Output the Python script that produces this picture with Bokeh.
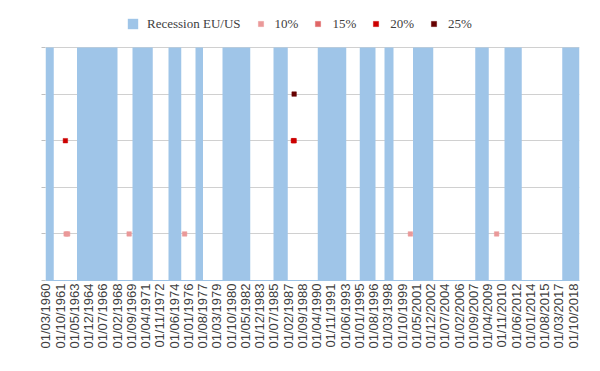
from bokeh.plotting import figure
from bokeh.models import Range1d, FixedTicker, Legend, LegendItem, ColumnDataSource
from bokeh.embed import file_html
from bokeh.resources import INLINE
import math

# ---- data ----
first_month = "1960-03"
last_month = "2019-06"

recession_start = ["1960-03", "1963-09", "1969-11", "1973-11", "1976-11", "1979-11", "1985-07",
                   "1990-06", "1995-02", "1997-11", "2001-01", "2007-12", "2011-03", "2017-08"]
recession_end = ["1961-01", "1968-02", "1972-01", "1975-03", "1977-08", "1982-11", "1987-01",
                 "1993-07", "1996-10", "1998-10", "2003-03", "2009-05", "2013-01", "2019-06"]
recession_top = 5

dates_10 = ["1962-06", "1962-08", "1969-06", "1975-08", "2000-09", "2010-04"]
values_10 = [1, 1, 1, 1, 1, 1]
dates_15 = []
values_15 = []
dates_20 = ["1962-05", "1987-09", "1987-10"]
values_20 = [3, 3, 3]
dates_25 = ["1987-10"]
values_25 = [4]

tick_labels = ["01/03/1960", "01/10/1961", "01/05/1963", "01/12/1964", "01/07/1966", "01/02/1968",
               "01/09/1969", "01/04/1971", "01/11/1972", "01/06/1974", "01/01/1976", "01/08/1977",
               "01/03/1979", "01/10/1980", "01/05/1982", "01/12/1983", "01/07/1985", "01/02/1987",
               "01/09/1988", "01/04/1990", "01/11/1991", "01/06/1993", "01/01/1995", "01/08/1996",
               "01/03/1998", "01/10/1999", "01/05/2001", "01/12/2002", "01/07/2004", "01/02/2006",
               "01/09/2007", "01/04/2009", "01/11/2010", "01/06/2012", "01/01/2014", "01/08/2015",
               "01/03/2017", "01/10/2018"]

series_labels = ["Recession EU/US", "10%", "15%", "20%", "25%"]
series_colors = ["#9FC5E8", "#EA9999", "#E06666", "#CC0000", "#660000"]

# ---- helpers ----
fy, fm = map(int, first_month.split("-"))


def idx(s):
    y, m = map(int, s.split("-"))
    return (y - fy) * 12 + (m - fm)


n_months = idx(last_month) + 1

# frame spans from legend row down to axis; data top (5) sits 37px below frame top
FRAME_TOP, DATA_TOP, FRAME_BOTTOM = 10, 47, 280
y_max = recession_top * (FRAME_BOTTOM - FRAME_TOP) / (FRAME_BOTTOM - DATA_TOP)

p = figure(width=584, height=355, output_backend="svg", toolbar_location=None,
           x_range=Range1d(0, n_months), y_range=Range1d(0, y_max),
           min_border_left=45, min_border_right=5, min_border_top=FRAME_TOP,
           min_border_bottom=355 - FRAME_BOTTOM,
           outline_line_color=None, background_fill_color="white")

rec_src = ColumnDataSource(dict(left=[idx(s) for s in recession_start],
                                right=[idx(e) + 1 for e in recession_end],
                                top=[recession_top] * len(recession_start),
                                bottom=[0] * len(recession_start)))
r_rec = p.quad(left="left", right="right", top="top", bottom="bottom", source=rec_src,
               fill_color=series_colors[0], line_color=None)

renderers = [r_rec]
for dates, vals, col in [(dates_10, values_10, series_colors[1]),
                         (dates_15, values_15, series_colors[2]),
                         (dates_20, values_20, series_colors[3]),
                         (dates_25, values_25, series_colors[4])]:
    xs = [idx(d) + 0.5 for d in dates]
    ys = list(vals)
    if not xs:
        # empty series: one invisible (NaN) row so its legend swatch still renders
        xs, ys = [float("nan")], [float("nan")]
    src = ColumnDataSource(dict(x=xs, y=ys))
    r = p.scatter(x="x", y="y", source=src, marker="square", size=4.5,
                  fill_color=col, line_color=col, line_width=0.5)
    renderers.append(r)

# x axis
def lab_idx(l):
    d, m, y = l.split("/")
    return idx(f"{y}-{m}") + 0.5

tick_pos = [lab_idx(l) for l in tick_labels]
p.xaxis.ticker = FixedTicker(ticks=tick_pos)
p.xaxis.major_label_overrides = {t: l for t, l in zip(tick_pos, tick_labels)}
p.xaxis.major_label_orientation = math.pi / 2
p.xaxis.major_label_text_font = "Liberation Sans"
p.xaxis.major_label_text_font_size = "13px"
p.xaxis.major_label_text_color = "#404040"
p.xaxis.major_tick_line_color = None
p.xaxis.major_tick_out = 0
p.xaxis.minor_tick_line_color = None
p.xaxis.axis_line_color = "#9DC3E6"
p.xaxis.major_label_standoff = 3
p.xgrid.grid_line_color = None

# y axis
p.yaxis.ticker = FixedTicker(ticks=[0, 1, 2, 3, 4, 5])
p.yaxis.major_label_overrides = {i: "" for i in range(6)}
p.yaxis.axis_line_color = None
p.yaxis.major_tick_line_color = "#BFBFBF"
p.yaxis.major_tick_out = 4
p.yaxis.major_tick_in = 0
p.yaxis.minor_tick_line_color = None
p.ygrid.ticker = FixedTicker(ticks=[0, 1, 2, 3, 4, 5])
p.ygrid.grid_line_color = "#D0D0D0"

legend = Legend(items=[LegendItem(label=l, renderers=[r]) for l, r in zip(series_labels, renderers)],
                orientation="horizontal", location=(81, 248.5),
                glyph_width=13, glyph_height=13, label_standoff=8, spacing=13,
                padding=0, margin=0, border_line_color=None, background_fill_alpha=0,
                label_text_font="Liberation Serif", label_text_font_size="13px",
                label_height=13, label_text_color="#404040")
p.add_layout(legend, "center")

open("out.html", "w").write(file_html(p, INLINE))
